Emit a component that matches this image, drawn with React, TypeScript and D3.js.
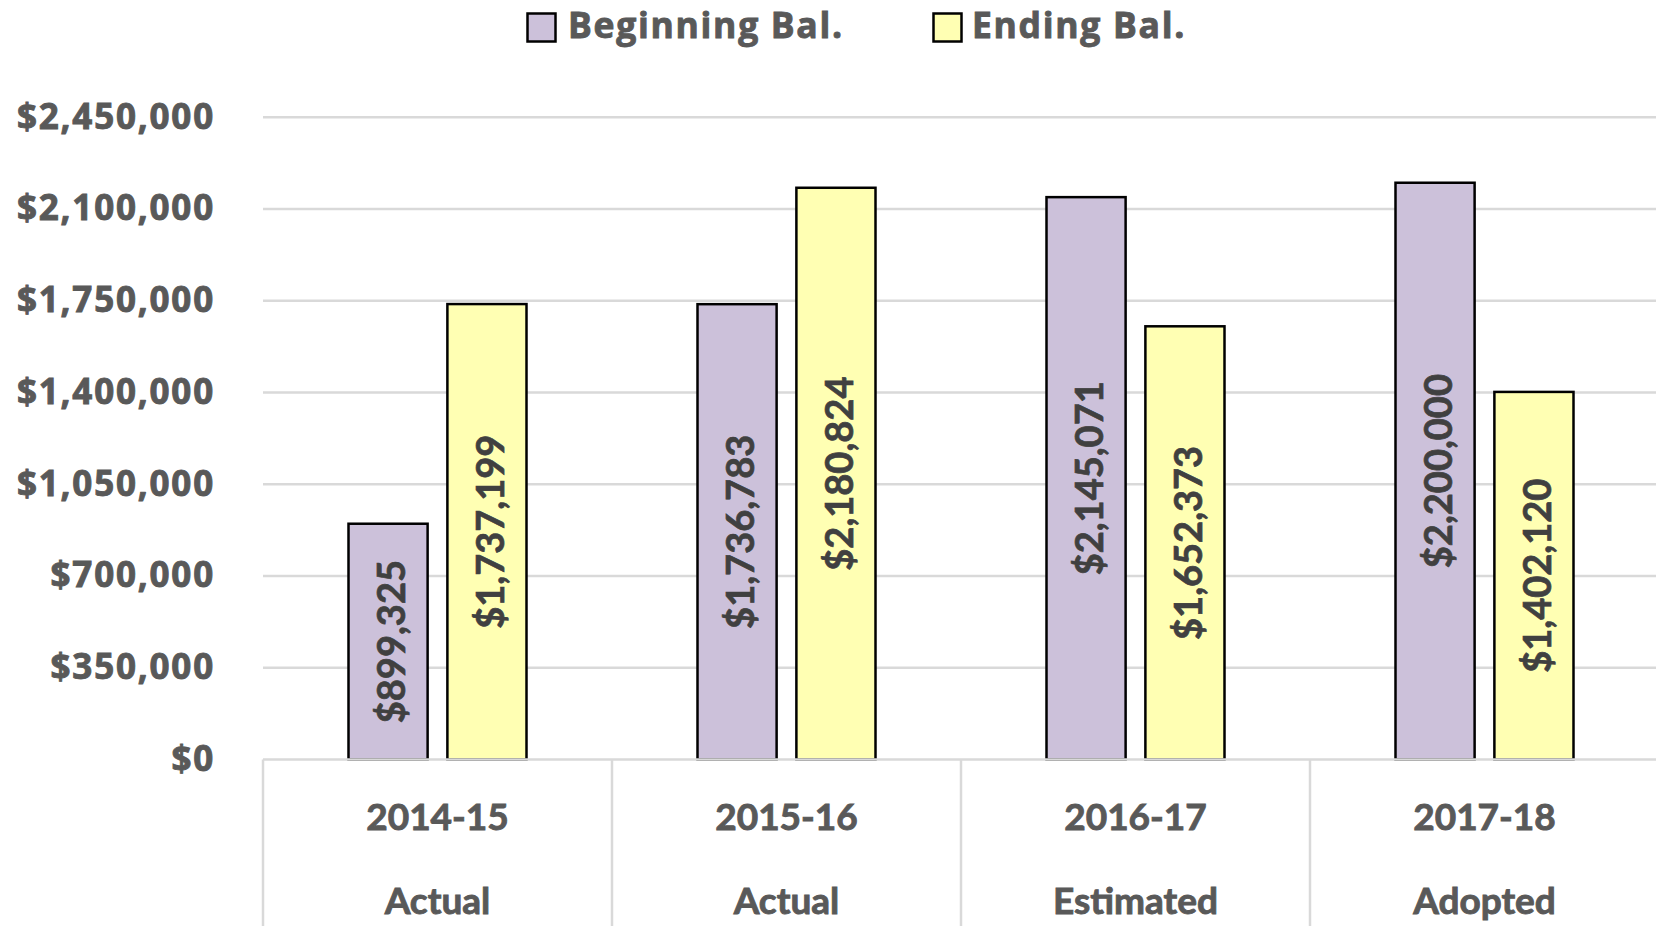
import React from "react";
import * as d3 from "d3";

const categories = ["2014-15", "2015-16", "2016-17", "2017-18"];
const subLabels = ["Actual", "Actual", "Estimated", "Adopted"];
const seriesNames = ["Beginning Bal.", "Ending Bal."];
const beginningBal = [899325, 1736783, 2145071, 2200000];
const endingBal = [1737199, 2180824, 1652373, 1402120];
const yTicks = [0, 350000, 700000, 1050000, 1400000, 1750000, 2100000, 2450000];
const seriesColors = ["#CCC1DA", "#FFFFB3"];

const W = 1656;
const H = 926;
const left = 263;
const right = 1659;
const top = 117.2;
const bottom = 759.5;

export default function App() {
  const x0 = d3.scaleBand<string>().domain(categories).range([left, right]).padding(0);
  const groupW = 178;
  const x1 = d3
    .scaleBand<string>()
    .domain(seriesNames)
    .range([x0.bandwidth() / 2 - groupW / 2, x0.bandwidth() / 2 + groupW / 2])
    .paddingInner(0.2)
    .paddingOuter(0);
  const y = d3.scaleLinear().domain([0, 2450000]).range([bottom, top]);
  const seriesData = [beginningBal, endingBal];
  const money = (v: number) => "$" + d3.format(",")(v);

  const legendItems = [
    { name: seriesNames[0], boxX: 527.5, textX: 568 },
    { name: seriesNames[1], boxX: 933.5, textX: 972 },
  ];

  return (
    <svg
      width={W}
      height={H}
      style={{ position: "absolute", left: 0, top: 0, background: "#fff" }}
    >
      {/* gridlines */}
      {yTicks.map((t) =>
        t === 0 ? null : (
          <line key={"g" + t} x1={left} x2={right} y1={y(t)} y2={y(t)} stroke="#D9D9D9" strokeWidth={2.5} />
        )
      )}
      {/* y labels */}
      {yTicks.map((t) => (
        <text
          key={"yl" + t}
          x={215}
          y={y(t) + 11.5}
          textAnchor="end"
          fontFamily="'Open Sans'"
          fontWeight={700}
          fontSize={35}
          letterSpacing={1.8}
          fill="#595959"
          stroke="#595959"
          strokeWidth={0.9}
        >
          {money(t)}
        </text>
      ))}
      {/* bars */}
      {categories.map((c, i) => (
        <g key={c} transform={`translate(${x0(c)},0)`}>
          {seriesNames.map((s, k) => {
            const v = seriesData[k][i];
            const bx = x1(s)!;
            const by = y(v);
            const bh = y(0) - by;
            const cx = bx + x1.bandwidth() / 2;
            const cy = by + bh / 2;
            return (
              <g key={s}>
                <rect x={bx} y={by} width={x1.bandwidth()} height={bh} fill={seriesColors[k]} stroke="#000" strokeWidth={2.5} />
                <text
                  transform={`translate(${cx + 2},${cy}) rotate(-90)`}
                  textAnchor="middle"
                  dominantBaseline="central"
                  fontFamily="Lato"
                  fontWeight={700}
                  fontSize={38}
                  fill="#404040"
                  stroke="#404040"
                  strokeWidth={0.7}
                >
                  {money(v)}
                </text>
              </g>
            );
          })}
        </g>
      ))}
      {/* x axis line */}
      <line x1={left} x2={right} y1={y(0)} y2={y(0)} stroke="#D9D9D9" strokeWidth={2.5} />
      {/* category separators */}
      {[...categories.map((c) => x0(c)!), right].map((xv, i) => (
        <line key={"sep" + i} x1={xv} x2={xv} y1={y(0)} y2={H} stroke="#D9D9D9" strokeWidth={2.5} />
      ))}
      {/* category labels */}
      {categories.map((c, i) => (
        <g key={"cl" + c}>
          <text
            x={x0(c)! + x0.bandwidth() / 2}
            y={829.5}
            textAnchor="middle"
            fontFamily="Lato"
            fontWeight={700}
            fontSize={37}
            fill="#595959"
            stroke="#595959"
            strokeWidth={0.9}
          >
            {c}
          </text>
          <text
            x={x0(c)! + x0.bandwidth() / 2}
            y={913.5}
            textAnchor="middle"
            fontFamily="Lato"
            fontWeight={700}
            fontSize={37}
            fill="#595959"
            stroke="#595959"
            strokeWidth={0.9}
          >
            {subLabels[i]}
          </text>
        </g>
      ))}
      {/* legend */}
      {legendItems.map((it, k) => (
        <g key={"lg" + k}>
          <rect x={it.boxX} y={13.5} width={28} height={28} fill={seriesColors[k]} stroke="#000" strokeWidth={2.5} />
          <text
            x={it.textX}
            y={38}
            fontFamily="'Open Sans'"
            fontWeight={700}
            fontSize={35.5}
            letterSpacing={1.7}
            fill="#595959"
            stroke="#595959"
            strokeWidth={0.9}
          >
            {it.name}
          </text>
        </g>
      ))}
    </svg>
  );
}
